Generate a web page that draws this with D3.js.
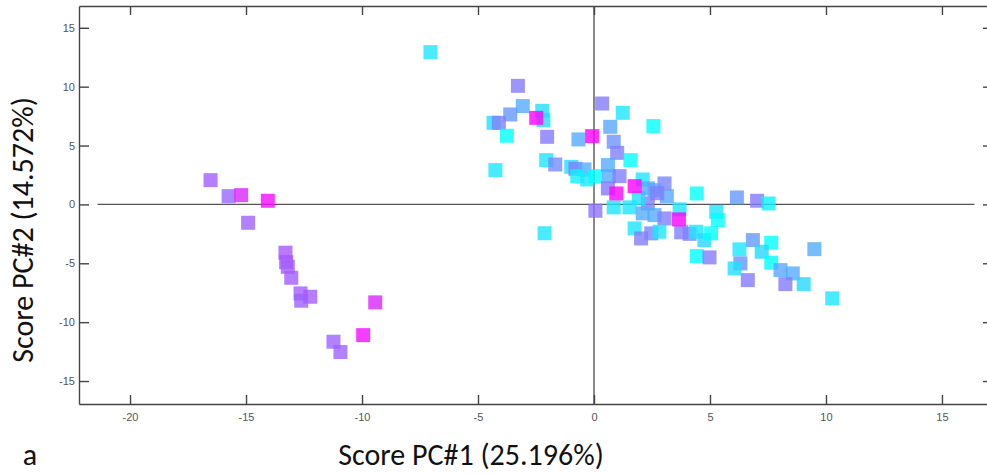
<!DOCTYPE html>
<html>
<head>
<meta charset="utf-8">
<script src="https://cdn.jsdelivr.net/npm/d3@7"></script>
<style>
  html, body { margin: 0; padding: 0; background: #fff; }
  svg { display: block; }
</style>
</head>
<body>
<div id="container"></div>
<script>
// PCA scores
const scoreX = [
  -16.53, -15.75, -15.21, -14.06, -14.91, -13.30, -13.27, -13.20, -13.05, -12.65, -12.62, -12.23, -9.43, -9.95, -11.23, -10.93,
  -7.05, -3.28, -3.07, -3.61, -4.33, -4.10, -2.23, -2.18, -2.49, -3.76, -2.02, -0.67, -0.08, -4.25, -2.06, -1.67, -0.98, -0.80, -0.41, -0.72, -0.29, 0.06, -2.13,
  0.35, 1.24, 2.56, 0.70, 0.85, 1.00, 1.57, 0.60, 0.64, 1.10, 2.10, 0.60, 3.04, 2.61, 3.14, 2.32, 1.93, 4.43, 0.06, 0.85, 1.53, 3.69,
  2.10, 2.61, 3.04, 1.75, 2.03, 2.47, 2.82, 3.76, 4.12, 4.40, 4.76, 5.05, 4.43, 4.98, 5.27, 5.34,
  6.16, 7.03, 7.53, 6.85, 7.64, 6.27, 7.23, 9.50, 6.31, 6.06, 7.64, 8.04, 8.57, 6.63, 8.25, 9.04, 10.27,
  2.32, 2.72, 1.75, 0.96, 3.66
];
const scoreY = [
  2.06, 0.70, 0.79, 0.31, -1.56, -4.10, -4.90, -5.30, -6.23, -7.56, -8.18, -7.84, -8.32, -11.10, -11.66, -12.54,
  12.93, 10.07, 8.35, 7.64, 6.93, 6.93, 7.95, 7.16, 7.35, 5.83, 5.74, 5.52, 5.80, 2.91, 3.76, 3.39, 3.19, 3.02, 2.97, 2.40, 2.12, 2.40, -2.45,
  8.57, 7.78, 6.65, 6.59, 5.32, 4.38, 3.76, 3.34, 2.40, 2.40, 2.12, 1.36, 1.78, 1.21, 0.70, 0.08, 0.54, 0.93, -0.54, -0.25, -0.25, -0.42,
  -0.76, -0.91, -1.19, -2.04, -2.89, -2.46, -2.32, -2.37, -2.50, -2.32, -3.03, -2.46, -4.39, -4.50, -0.63, -1.33,
  0.59, 0.31, 0.08, -3.03, -3.26, -3.82, -4.02, -3.80, -5.01, -5.44, -4.95, -5.58, -5.86, -6.43, -6.77, -6.77, -7.98,
  1.36, 0.95, 1.55, 0.93, -1.27
];
// colour variable (0 = cyan ... 1 = magenta)
const colourVal = [
  0.64, 0.60, 0.85, 0.95, 0.62, 0.66, 0.66, 0.64, 0.64, 0.64, 0.62, 0.64, 0.85, 0.95, 0.62, 0.62,
  0.10, 0.52, 0.33, 0.40, 0.12, 0.50, 0.12, 0.12, 1.00, 0.00, 0.52, 0.33, 1.00, 0.10, 0.10, 0.45, 0.12, 0.52, 0.33, 0.05, 0.10, 0.00, 0.10,
  0.52, 0.10, 0.00, 0.35, 0.42, 0.50, 0.00, 0.33, 0.33, 0.50, 0.10, 0.52, 0.48, 0.35, 0.35, 0.50, 0.12, 0.00, 0.55, 0.10, 0.10, 0.10,
  0.33, 0.33, 0.50, 0.10, 0.50, 0.50, 0.10, 0.50, 0.50, 0.10, 0.15, 0.00, 0.00, 0.52, 0.10, 0.00,
  0.40, 0.52, 0.05, 0.40, 0.00, 0.10, 0.15, 0.33, 0.42, 0.12, 0.00, 0.35, 0.33, 0.52, 0.52, 0.15, 0.10,
  0.35, 0.50, 1.00, 1.00, 1.00
];

const xTicks = [-20, -15, -10, -5, 0, 5, 10, 15];
const yTicks = [-15, -10, -5, 0, 5, 10, 15];
const xTitle = "Score PC#1 (25.196%)";
const yTitle = "Score PC#2 (14.572%)";
const panelLabel = "a";

const width = 987;
const height = 475;
const plotLeft = 79, plotRight = 993, plotTop = 6, plotBottom = 404;

const x = d3.scaleLinear().domain([-22.2, 17.2]).range([plotLeft, plotRight]);
const y = d3.scaleLinear().domain([-16.95, 16.85]).range([plotBottom, plotTop]);
const colour = d3.scaleSequential((t) => d3.rgb(255 * t, 255 * (1 - t), 255)).domain([0, 1]);

const svg = d3
  .select("#container")
  .append("svg")
  .attr("width", width)
  .attr("height", height);

// zero lines
svg
  .append("line")
  .attr("x1", x(-21.4))
  .attr("x2", x(16.4))
  .attr("y1", y(0))
  .attr("y2", y(0))
  .attr("stroke", "#555")
  .attr("stroke-width", 1.4);
svg
  .append("line")
  .attr("x1", x(0))
  .attr("x2", x(0))
  .attr("y1", plotTop)
  .attr("y2", plotBottom)
  .attr("stroke", "#555")
  .attr("stroke-width", 1.4);

// points
const pts = scoreX.map((d, i) => ({ x: d, y: scoreY[i], c: colourVal[i] }));
const size = 14;
svg
  .append("g")
  .selectAll("rect")
  .data(pts)
  .enter()
  .append("rect")
  .attr("x", (d) => x(d.x) - size / 2)
  .attr("y", (d) => y(d.y) - size / 2)
  .attr("width", size)
  .attr("height", size)
  .attr("fill", (d) => colour(d.c))
  .attr("fill-opacity", 0.8);

// axes, ticks on the inside
const fmt = (d) => String(d);
const styleAxis = (g) => {
  g.select(".domain").attr("stroke", "#444").attr("stroke-width", 1.4);
  g.selectAll(".tick line").attr("stroke", "#444").attr("stroke-width", 1.4);
  g.selectAll(".tick text")
    .attr("fill", "#555")
    .style("font-family", "'Liberation Sans', Arial, sans-serif")
    .style("font-size", "11px");
};

svg
  .append("g")
  .attr("transform", `translate(0,${plotBottom})`)
  .call(d3.axisBottom(x).tickValues(xTicks).tickFormat(fmt).tickSizeInner(-9).tickSizeOuter(0).tickPadding(9))
  .call(styleAxis);
svg
  .append("g")
  .attr("transform", `translate(0,${plotTop})`)
  .call(d3.axisTop(x).tickValues(xTicks).tickFormat("").tickSizeInner(-9).tickSizeOuter(0))
  .call(styleAxis);
svg
  .append("g")
  .attr("transform", `translate(${plotLeft},0)`)
  .call(d3.axisLeft(y).tickValues(yTicks).tickFormat(fmt).tickSizeInner(-10).tickSizeOuter(0).tickPadding(4))
  .call(styleAxis);
svg
  .append("g")
  .attr("transform", `translate(${plotRight},0)`)
  .call(d3.axisRight(y).tickValues(yTicks).tickFormat("").tickSizeInner(-10).tickSizeOuter(0))
  .call(styleAxis);

// titles
const titleFont = "Carlito, Calibri, 'Liberation Sans', sans-serif";
svg
  .append("text")
  .attr("x", 471)
  .attr("y", 465)
  .attr("text-anchor", "middle")
  .style("font-family", titleFont)
  .style("font-size", "30px")
  .attr("fill", "#111")
  .text(xTitle);
svg
  .append("text")
  .attr("transform", `translate(33,230) rotate(-90)`)
  .attr("text-anchor", "middle")
  .style("font-family", titleFont)
  .style("font-size", "30px")
  .attr("fill", "#111")
  .text(yTitle);
svg
  .append("text")
  .attr("x", 30)
  .attr("y", 465)
  .attr("text-anchor", "middle")
  .style("font-family", titleFont)
  .style("font-size", "30px")
  .attr("fill", "#111")
  .text(panelLabel);
</script>
</body>
</html>
